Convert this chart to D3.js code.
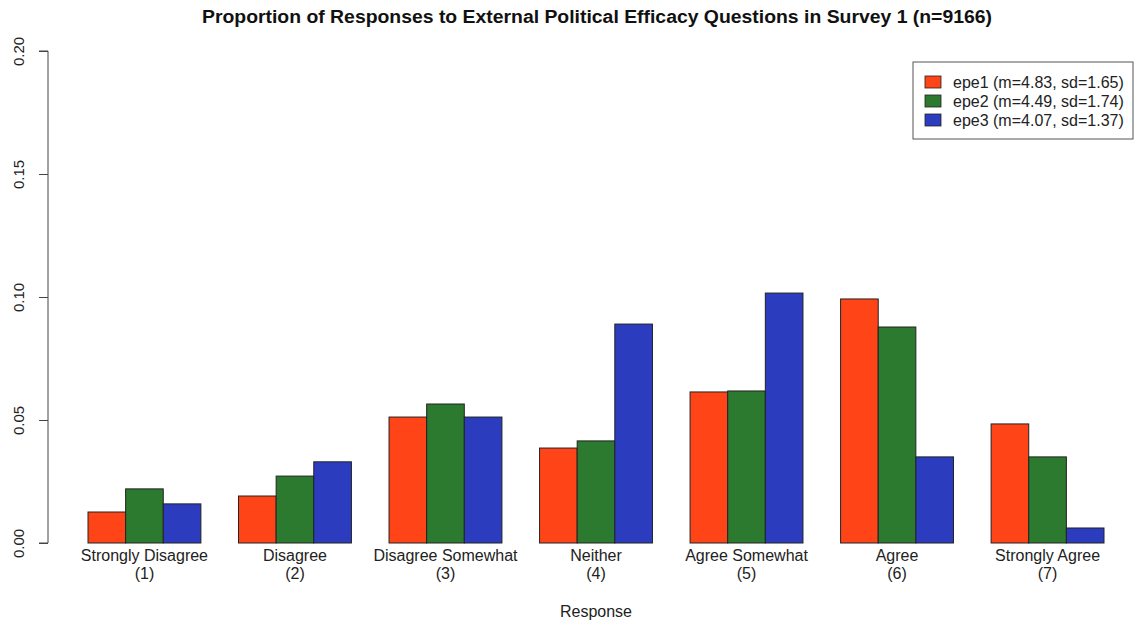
<!DOCTYPE html>
<html><head><meta charset="utf-8">
<script src="https://cdn.jsdelivr.net/npm/d3@7"></script>
<style>body{margin:0;background:#fff}svg{display:block;font-family:"Liberation Sans",Arial,sans-serif}</style>
</head><body><svg id="c" width="1135" height="626"></svg>
<script>
const categories = ["Strongly Disagree","Disagree","Disagree Somewhat","Neither","Agree Somewhat","Agree","Strongly Agree"];
const codes = ["(1)","(2)","(3)","(4)","(5)","(6)","(7)"];
const seriesNames = ["epe1 (m=4.83, sd=1.65)","epe2 (m=4.49, sd=1.74)","epe3 (m=4.07, sd=1.37)"];
const epe1 = [0.0126,0.0191,0.0512,0.0386,0.0614,0.0992,0.0484];
const epe2 = [0.0220,0.0272,0.0565,0.0415,0.0618,0.0878,0.0350];
const epe3 = [0.0159,0.0330,0.0512,0.0890,0.1016,0.0350,0.0061];
const yTicks = [0,0.05,0.10,0.15,0.20];
const colors = ["#ff4518","#2c7a2f","#2b3cbf"];
const series = [epe1,epe2,epe3];

const svg = d3.select("#c");
const y = d3.scaleLinear().domain([0,0.20]).range([543,51]);
const x0 = d3.scaleBand().domain(categories).range([88,1104]).paddingInner(0.25).paddingOuter(0);
const x1 = d3.scaleBand().domain([0,1,2]).range([0,x0.bandwidth()]).padding(0);

// bars
categories.forEach((c,i)=>{
  const g = svg.append("g").attr("transform",`translate(${x0(c)},0)`);
  series.forEach((s,k)=>{
    g.append("rect").attr("x",x1(k)).attr("width",x1.bandwidth())
      .attr("y",y(s[i])).attr("height",y(0)-y(s[i]))
      .attr("fill",colors[k]).attr("stroke","#222").attr("stroke-width",1);
  });
});

// y axis
const yAxis = d3.axisLeft(y).tickValues(yTicks).tickFormat(d3.format(".2f")).tickSize(9).tickPadding(0);
const ya = svg.append("g").attr("transform","translate(48,0)").call(yAxis);
ya.select(".domain").attr("stroke","#444").attr("d",`M-9,${y(0)}H0V${y(0.2)}H-9`);
ya.selectAll(".tick line").attr("stroke","#444");
ya.selectAll(".tick text").attr("transform","rotate(-90)").attr("x",0).attr("y",-29)
  .attr("dy","0.35em").attr("text-anchor","middle").attr("font-size",15).attr("fill","#222")
  .attr("font-family","'Liberation Sans',Arial,sans-serif");

// x labels
const xl = svg.append("g").attr("font-size",16).attr("fill","#222").attr("text-anchor","middle");
categories.forEach((c,i)=>{
  const cx = x0(c)+x0.bandwidth()/2;
  xl.append("text").attr("x",cx).attr("y",561).text(c);
  xl.append("text").attr("x",cx).attr("y",579).text(codes[i]);
});

svg.append("text").attr("x",596).attr("y",617).attr("text-anchor","middle").attr("font-size",16).attr("fill","#222").text("Response");
svg.append("text").attr("x",202).attr("y",23).attr("font-size",18).attr("font-weight","bold").attr("fill","#111")
  .attr("textLength",790).attr("lengthAdjust","spacingAndGlyphs")
  .text("Proportion of Responses to External Political Efficacy Questions in Survey 1 (n=9166)");

// legend
const lg = svg.append("g");
lg.append("rect").attr("x",913).attr("y",62).attr("width",220).attr("height",77).attr("fill","#fff").attr("stroke","#555");
seriesNames.forEach((n,k)=>{
  const yy = 82+k*19;
  lg.append("rect").attr("x",925).attr("y",yy-6).attr("width",16).attr("height",12).attr("fill",colors[k]).attr("stroke","#222").attr("stroke-width",0.8);
  lg.append("text").attr("x",953).attr("y",yy).attr("dy","0.35em").attr("font-size",16).attr("fill","#222").text(n);
});
</script></body></html>
